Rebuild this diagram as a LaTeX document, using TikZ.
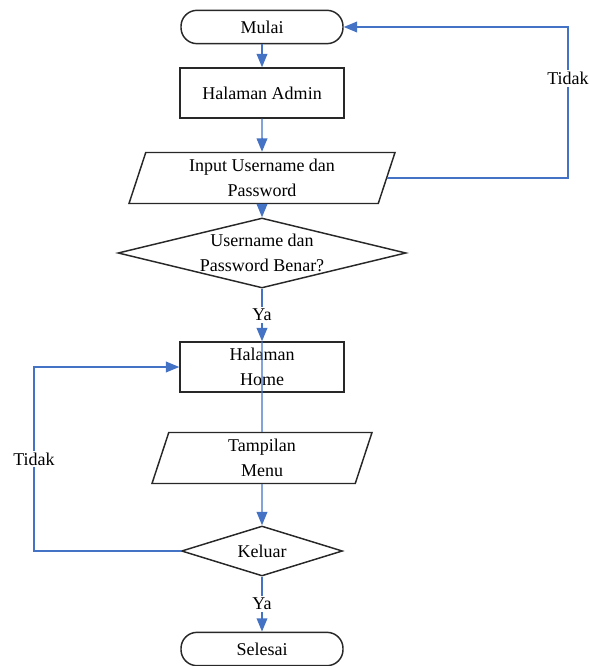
\documentclass[tikz,border=0pt]{standalone}
\usepackage{fontspec}
\setmainfont{Liberation Serif}
\usetikzlibrary{shapes.geometric,arrows.meta}
\definecolor{garis}{RGB}{68,114,196}
\definecolor{tepi}{RGB}{40,40,40}
\begin{document}
\begin{tikzpicture}[x=0.75pt,y=-0.75pt,
    font=\fontsize{13.5}{19}\selectfont,
    terminal/.style={draw=tepi,line width=1.1pt,rounded corners=12pt,minimum width=121.5pt,minimum height=25pt,inner sep=0pt},
    proses/.style={draw=tepi,line width=1.1pt,minimum width=123pt,minimum height=37.5pt,inner sep=0pt,align=center},
    io/.style={draw=tepi,line width=1.1pt,trapezium,trapezium left angle=67.6,trapezium right angle=112.4,
        trapezium stretches body,minimum height=38.25pt,inner sep=1pt,align=center},
    keputusan/.style={draw=tepi,line width=1.1pt,diamond,inner sep=0pt},
    panah/.style={draw=garis,line width=1.1pt,-{Triangle[length=10pt,width=8pt]}},
    garisbiru/.style={draw=garis,line width=1.1pt},
    ket/.style={fill=white,inner sep=1.5pt}]
    \useasboundingbox (0,0) rectangle (588,666);

    \coordinate (kanan) at (568,27);
    \coordinate (kiri) at (34,551);

    \node[terminal] (mulai) at (262,27) {Mulai};
    \node[proses] (admin) at (262,93) {Halaman Admin};
    \node[io,minimum width=199.5pt] (input) at (262,178) {Input Username dan\\Password};
    \node[keputusan,minimum width=216pt,minimum height=52.5pt,
        label={[align=center]center:Username dan\\Password Benar?}] (cek) at (262,253) {};
    \node[proses] (home) at (262,367) {Halaman\\Home};
    \node[io,minimum width=165pt] (menu) at (262,458) {Tampilan\\Menu};
    \node[keputusan,minimum width=120.75pt,minimum height=37.5pt,
        label=center:Keluar] (keluar) at (262,551) {};
    \node[terminal] (selesai) at (262,649) {Selesai};

    \draw[panah] (mulai) -- (admin);
    \draw[panah] (admin) -- (input);
    \draw[panah] (input) -- (cek);
    \draw[panah] (cek) -- node[ket] {Ya} (home);
    \draw[panah] (input.east) -- (input.east -| kanan) -- node[ket,pos=0.66] {Tidak} (kanan) -- (mulai.east);
    \draw[garisbiru] (home.north) -- (menu.north);
    \draw[panah] (menu) -- (keluar);
    \draw[panah] (keluar) -- node[ket] {Ya} (selesai);
    \draw[panah] (keluar.west) -- (kiri) -- node[ket] {Tidak} (kiri |- home) -- (home.west);
\end{tikzpicture}
\end{document}
